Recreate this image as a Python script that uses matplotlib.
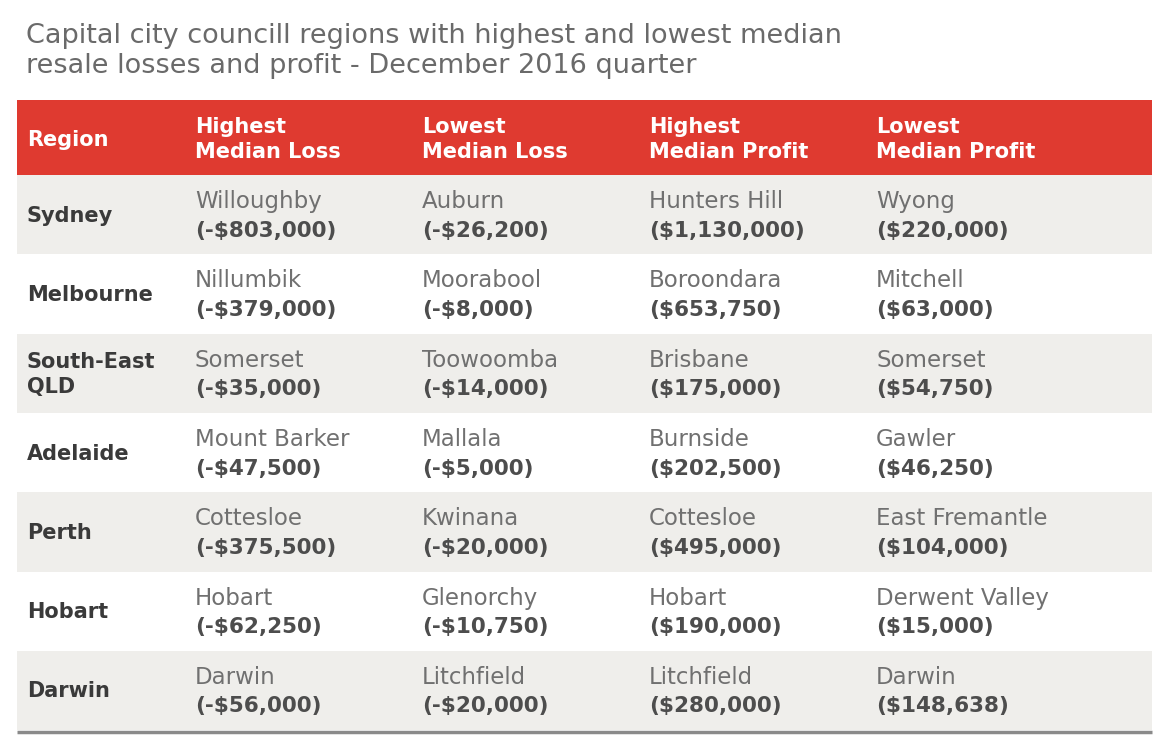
import matplotlib.pyplot as plt
from matplotlib.patches import Rectangle

plt.rcParams['font.family'] = ['DejaVu Sans']

title = "Capital city councill regions with highest and lowest median\nresale losses and profit - December 2016 quarter"

headers = ["Region", "Highest\nMedian Loss", "Lowest\nMedian Loss",
           "Highest\nMedian Profit", "Lowest\nMedian Profit"]

regions = ["Sydney", "Melbourne", "South-East\nQLD", "Adelaide", "Perth", "Hobart", "Darwin"]

high_loss_place = ["Willoughby", "Nillumbik", "Somerset", "Mount Barker", "Cottesloe", "Hobart", "Darwin"]
high_loss_value = ["(-$803,000)", "(-$379,000)", "(-$35,000)", "(-$47,500)", "(-$375,500)", "(-$62,250)", "(-$56,000)"]

low_loss_place = ["Auburn", "Moorabool", "Toowoomba", "Mallala", "Kwinana", "Glenorchy", "Litchfield"]
low_loss_value = ["(-$26,200)", "(-$8,000)", "(-$14,000)", "(-$5,000)", "(-$20,000)", "(-$10,750)", "(-$20,000)"]

high_profit_place = ["Hunters Hill", "Boroondara", "Brisbane", "Burnside", "Cottesloe", "Hobart", "Litchfield"]
high_profit_value = ["($1,130,000)", "($653,750)", "($175,000)", "($202,500)", "($495,000)", "($190,000)", "($280,000)"]

low_profit_place = ["Wyong", "Mitchell", "Somerset", "Gawler", "East Fremantle", "Derwent Valley", "Darwin"]
low_profit_value = ["($220,000)", "($63,000)", "($54,750)", "($46,250)", "($104,000)", "($15,000)", "($148,638)"]

places = [high_loss_place, low_loss_place, high_profit_place, low_profit_place]
values = [high_loss_value, low_loss_value, high_profit_value, low_profit_value]

# layout in pixels
W, H = 1160, 742
left, right = 17, 1152
head_top, head_bot = 100, 175
row_h = 79.3
col_x = [27, 195, 422, 649, 876]

red = "#df3a30"
grey_row = "#efeeeb"

fig = plt.figure(figsize=(W / 100, H / 100), dpi=100)
ax = fig.add_axes([0, 0, 1, 1])
ax.set_xlim(0, W)
ax.set_ylim(H, 0)
ax.axis("off")

ax.text(26, 51, title, fontsize=19.5, color="#6a6a6a", va="center", ha="left",
        linespacing=1.2)

# header
ax.add_patch(Rectangle((left, head_top), right - left, head_bot - head_top, color=red, lw=0))
for i, h in enumerate(headers):
    ax.text(col_x[i], (head_top + head_bot) / 2 + 2, h, fontsize=15, fontweight="bold",
            color="white", va="center", ha="left", linespacing=1.3)

# rows
for r, reg in enumerate(regions):
    y0 = head_bot + r * row_h
    if r % 2 == 0:
        ax.add_patch(Rectangle((left, y0), right - left, row_h, color=grey_row, lw=0))
    yc = y0 + row_h / 2 + 1
    ax.text(col_x[0], yc, reg, fontsize=15, fontweight="bold", color="#3a3a3a",
            va="center", ha="left", linespacing=1.3)
    for c in range(4):
        ax.text(col_x[c + 1], yc - 14, places[c][r], fontsize=16.5, color="#707070",
                va="center", ha="left")
        ax.text(col_x[c + 1], yc + 15, values[c][r], fontsize=15.5, fontweight="bold",
                color="#4d4d4d", va="center", ha="left")

bottom = head_bot + len(regions) * row_h
ax.plot([left, right], [bottom + 2, bottom + 2], color="#8a8a8a", lw=2.5, solid_capstyle="butt")

fig.savefig("out.png", dpi=100, facecolor="white")
